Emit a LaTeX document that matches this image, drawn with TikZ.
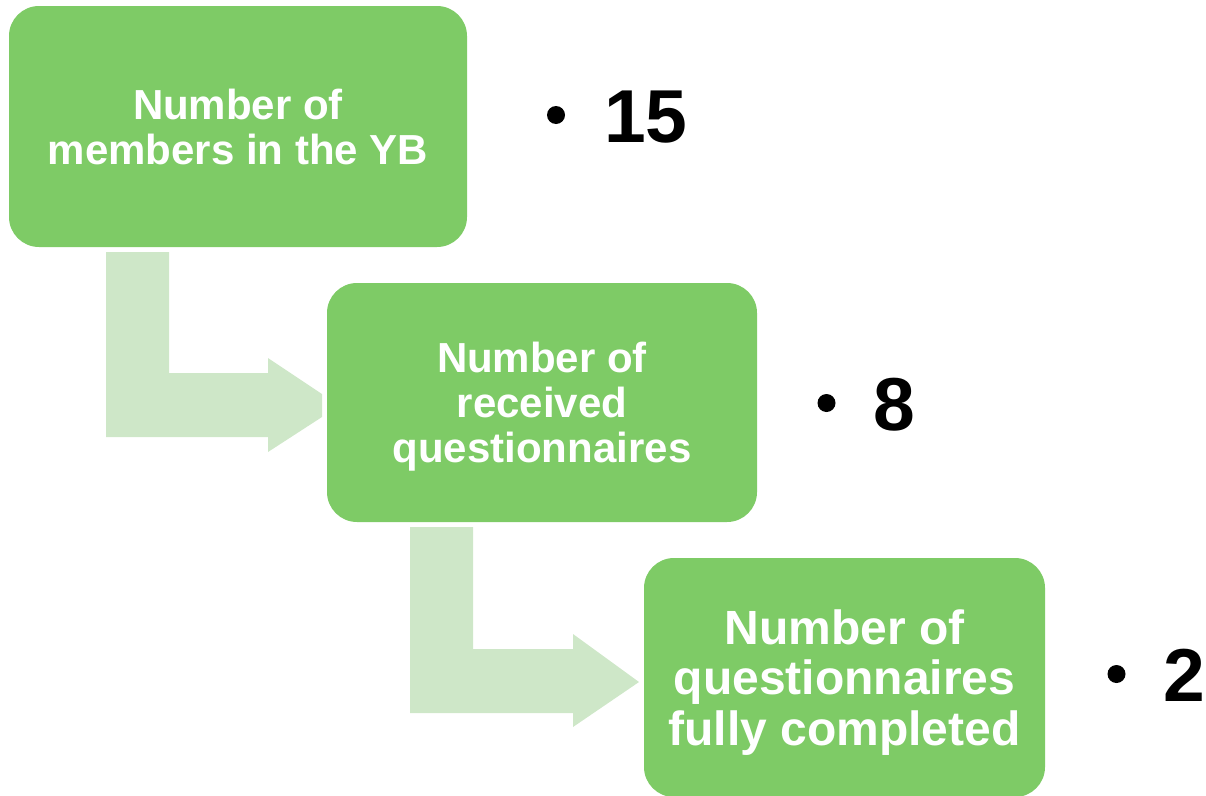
\documentclass[tikz,border=0pt]{standalone}
\usepackage{fontspec}
\setmainfont{Liberation Sans}
\definecolor{boxgreen}{RGB}{126,203,102}
\definecolor{arrowgreen}{RGB}{206,231,200}
\begin{document}
\begin{tikzpicture}[x=1pt,y=-1pt,
  stagebox/.style={rectangle, rounded corners=30pt, fill=boxgreen, draw=none, text=white, align=center, inner sep=0pt, text depth=0pt},
  smallfont/.style={font=\fontsize{42}{45}\selectfont\bfseries},
  bigfont/.style={font=\fontsize{48}{50.5}\selectfont\bfseries},
  bentarrow/.style={fill=arrowgreen, draw=none},
  dotmark/.style={circle, fill=black, minimum size=18pt, inner sep=0pt},
  numtext/.style={anchor=base west, inner sep=0pt, font=\fontsize{75}{80}\selectfont\bfseries}]
\useasboundingbox (0,0) rectangle (1206,795);

% bent arrows
\path[bentarrow] (106,252) -- (169,252) -- (169,373) -- (268,373) -- (268,358) -- (322,394) -- (322,417) -- (268,452) -- (268,437) -- (106,437) -- cycle;
\path[bentarrow] (410,527) -- (473,527) -- (473,649) -- (573,649) -- (573,634) -- (639,682) -- (573,727) -- (573,713) -- (410,713) -- cycle;

% boxes
\node[stagebox, smallfont, minimum width=458pt, minimum height=241pt] (b1) at (238,126.5) {Number of\\members in the YB};
\node[stagebox, smallfont, minimum width=430pt, minimum height=239pt] (b2) at (542,402.5) {Number of\\received\\questionnaires};
\node[stagebox, bigfont, minimum width=401pt, minimum height=239pt] (b3) at (844.5,677.5) {Number of\\questionnaires\\fully completed};

% values
\node[dotmark] (d1) at (556,115) {};
\node[numtext] (v1) at (604,142) {15};
\node[dotmark] (d2) at (826.5,403) {};
\node[numtext] (v2) at (873,430) {8};
\node[dotmark] (d3) at (1116.5,674) {};
\node[numtext] (v3) at (1163,701) {2};
\end{tikzpicture}
\end{document}
